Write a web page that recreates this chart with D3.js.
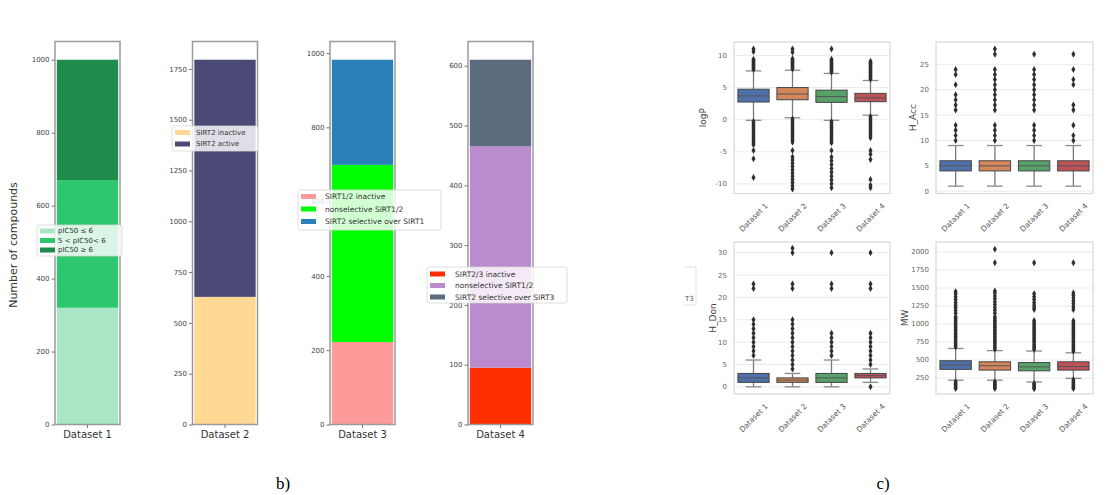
<!DOCTYPE html>
<html><head><meta charset="utf-8">
<script src="https://cdn.jsdelivr.net/npm/d3@7"></script>
<style>body{margin:0;background:#fff} svg{display:block}</style>
</head><body><svg id="c" width="1105" height="495"></svg>
<script>
// ---------------- DATA ----------------
const barCategories = ["Dataset 1", "Dataset 2", "Dataset 3", "Dataset 4"];

const ds1Series = ["pIC50 ≤ 6", "5 < pIC50< 6", "pIC50 ≥ 6"];
const ds1Values = [320, 350, 330];
const ds1Ticks = [0, 200, 400, 600, 800, 1000];

const ds2Series = ["SIRT2 inactive", "SIRT2 active"];
const ds2Values = [628, 1167];
const ds2Ticks = [0, 250, 500, 750, 1000, 1250, 1500, 1750];

const ds3Series = ["SIRT1/2 inactive", "nonselective SIRT1/2", "SIRT2 selective over SIRT1"];
const ds3Values = [222, 477, 283];
const ds3Ticks = [0, 200, 400, 600, 800, 1000];

const ds4Series = ["SIRT2/3 inactive", "nonselective SIRT1/2", "SIRT2 selective over SIRT3"];
const ds4Values = [95, 370, 145];
const ds4Ticks = [0, 100, 200, 300, 400, 500, 600];

const boxCategories = ["Dataset 1", "Dataset 2", "Dataset 3", "Dataset 4"];

// [whisker low, Q1, median, Q3, whisker high]
const logPStats = [[-0.1, 2.75, 3.7, 4.75, 7.6], [0.3, 3.1, 4.0, 5.0, 7.7], [-0.1, 2.7, 3.6, 4.6, 7.2], [0.7, 2.8, 3.4, 4.1, 6.1]];
const logPOutliers = [
  [11.0, 10.6, 9.4, 9.2, 9.0, 8.8, 8.6, 8.4, 8.2, 8.0, 7.8, -0.3, -0.6, -0.9, -1.2, -1.5, -1.8, -2.1, -2.4, -2.7, -3.0, -3.3, -3.6, -3.9, -4.8, -6.1, -9.0],
  [11.0, 10.5, 9.5, 9.3, 9.1, 8.9, 8.7, 8.5, 8.3, 8.1, 7.9, 0.1, -0.2, -0.5, -0.8, -1.1, -1.4, -1.7, -2.0, -2.3, -2.6, -2.9, -3.2, -3.5, -4.8, -5.8, -6.3, -6.8, -7.3, -7.8, -8.3, -8.8, -9.3, -9.8, -10.3, -10.8],
  [11.0, 9.4, 9.2, 9.0, 8.8, 8.6, 8.4, 8.2, 8.0, 7.8, 7.6, 7.4, -0.3, -0.6, -0.9, -1.2, -1.5, -1.8, -2.1, -2.4, -2.7, -3.0, -3.3, -3.6, -4.8, -5.8, -6.4, -7.0, -7.6, -8.2, -8.8, -9.4, -10.0, -10.6],
  [9.1, 8.9, 8.7, 8.5, 8.3, 8.1, 7.9, 7.7, 7.5, 7.3, 7.1, 6.9, 6.7, 6.5, 6.3, 0.5, 0.2, -0.1, -0.4, -0.7, -1.0, -1.3, -1.6, -1.9, -2.2, -2.5, -2.8, -4.8, -5.4, -6.2, -9.3, -10.2, -10.6]
];
const logPTicks = [-10, -5, 0, 5, 10];
const logPDomain = [-11.5, 12.1];

const hAccStats = [[1, 4, 5, 6, 9], [1, 4, 5, 6, 9], [1, 4, 5, 6, 9], [1, 4, 5, 6, 9]];
const hAccOutliers = [
  [10, 11, 12, 13, 16, 17, 18, 19, 21, 23, 24],
  [10, 11, 12, 13, 16, 17, 18, 19, 20, 21, 22, 23, 24, 27, 28],
  [10, 11, 12, 13, 16, 17, 18, 19, 20, 21, 22, 23, 24, 27],
  [10, 11, 13, 16, 17, 21, 22, 24, 27]
];
const hAccTicks = [0, 5, 10, 15, 20, 25];
const hAccDomain = [-0.45, 29.4];

const hDonStats = [[0, 1, 2, 3, 6], [0, 1, 1.5, 2, 3], [0, 1, 2, 3, 6], [1, 2, 2.5, 3, 4]];
const hDonOutliers = [
  [7, 8, 9, 10, 11, 12, 13, 14, 15, 22, 23],
  [4, 5, 6, 7, 8, 9, 10, 11, 12, 13, 14, 15, 22, 23, 30, 31],
  [7, 8, 9, 10, 11, 12, 22, 23, 30],
  [0, 5, 6, 7, 8, 9, 10, 11, 12, 22, 23, 30]
];
const hDonTicks = [0, 5, 10, 15, 20, 25, 30];
const hDonDomain = [-1.6, 32.4];

const mwStats = [[220, 370, 430, 490, 660], [220, 360, 420, 475, 630], [195, 350, 405, 465, 625], [245, 360, 410, 475, 600]];
const mwOutliers = [
  [680, 705, 730, 755, 780, 805, 830, 855, 880, 905, 930, 955, 980, 1005, 1030, 1055, 1080, 1100, 1150, 1190, 1230, 1260, 1300, 1340, 1380, 1420, 1450, 200, 180, 160, 140, 120, 105],
  [650, 675, 700, 725, 750, 775, 800, 825, 850, 875, 900, 925, 950, 975, 1000, 1025, 1050, 1075, 1100, 1150, 1190, 1230, 1270, 1310, 1350, 1390, 1430, 1460, 1850, 2040, 200, 180, 160, 140, 120, 105],
  [645, 670, 695, 720, 745, 770, 795, 820, 845, 870, 895, 920, 945, 970, 995, 1020, 1050, 1200, 1230, 1260, 1300, 1340, 1380, 1420, 1850, 175, 155, 135, 115, 100],
  [620, 645, 670, 695, 720, 745, 770, 795, 820, 845, 870, 895, 920, 945, 970, 995, 1020, 1045, 1200, 1240, 1280, 1320, 1360, 1400, 1430, 1850, 225, 200, 180, 160, 140, 120, 105]
];
const mwTicks = [250, 500, 750, 1000, 1250, 1500, 1750, 2000];
const mwDomain = [28, 2139];

// ---------------- STYLE / LAYOUT ----------------
const ds1Colors = ["#a8e6c5", "#2fc76d", "#1f8b4d"];
const ds2Colors = ["#ffd994", "#4b4a76"];
const ds3Colors = ["#ff9a9a", "#00ff00", "#2a80b9"];
const ds4Colors = ["#ff2e00", "#bb8bcd", "#5c6b7d"];
const boxColors = ["#4e71aa", "#d4875b", "#58a26a", "#bd5357"];

const FONT = "DejaVu Sans, sans-serif";
const svg = d3.select("#c");
const fmt = d3.format("d");

// ---------------- LEFT: stacked bars ----------------
const BAR_TOP = 41.5, BAR_BOTTOM = 424.5, BAR_W = 65;
const barLeft = [55, 192.5, 330, 468];

function drawBarPanel(i, series, values, ticks, colors, lg) {
  const x0 = barLeft[i], x1 = x0 + BAR_W;
  const total = d3.sum(values);
  const y = d3.scaleLinear().domain([0, total * 1.05]).range([BAR_BOTTOM, BAR_TOP]);
  const x = d3.scaleBand().domain([barCategories[i]]).range([x0, x1]).paddingOuter(0.03).paddingInner(0);
  const row = {};
  series.forEach((s, k) => row[s] = values[k]);
  const layers = d3.stack().keys(series)([row]);
  const g = svg.append("g");
  g.selectAll("rect.bar").data(layers).join("rect")
    .attr("x", x(barCategories[i])).attr("width", x.bandwidth())
    .attr("y", d => y(d[0][1])).attr("height", d => y(d[0][0]) - y(d[0][1]))
    .attr("fill", (d, k) => colors[k]);
  g.append("rect").attr("x", x0).attr("y", BAR_TOP).attr("width", BAR_W).attr("height", BAR_BOTTOM - BAR_TOP)
    .attr("fill", "none").attr("stroke", "#9a9a9a").attr("stroke-width", 1.5);
  g.append("g").attr("transform", `translate(${x0},0)`)
    .call(d3.axisLeft(y).tickValues(ticks).tickFormat(fmt).tickSize(3.5).tickPadding(2))
    .call(a => {
      a.select(".domain").remove();
      a.selectAll("line").attr("stroke", "#777");
      a.selectAll("text").attr("font-size", 7).attr("fill", "#444").attr("font-family", FONT);
    });
  g.append("g").attr("transform", `translate(0,${BAR_BOTTOM})`)
    .call(d3.axisBottom(x).tickSize(3.5).tickPadding(3))
    .call(a => {
      a.select(".domain").remove();
      a.selectAll("line").attr("stroke", "#777");
      a.selectAll("text").attr("font-size", 10).attr("fill", "#333").attr("font-family", FONT);
    });
  // legend
  const L = svg.append("g");
  L.append("rect").attr("x", lg.x).attr("y", lg.y).attr("width", lg.w).attr("height", lg.h)
    .attr("fill", "#fff").attr("fill-opacity", 0.82).attr("stroke", "#d6d6d6").attr("stroke-width", 0.8).attr("rx", 2);
  series.forEach((s, k) => {
    const cy = lg.y + lg.pad + k * lg.step;
    L.append("rect").attr("x", lg.x + 3).attr("y", cy - 2.5).attr("width", 15).attr("height", 5).attr("fill", colors[k]);
    L.append("text").attr("x", lg.tx).attr("y", cy).attr("dy", "0.35em")
      .attr("font-size", lg.fs).attr("font-family", FONT).attr("fill", "#333").text(s);
  });
}

drawBarPanel(0, ds1Series, ds1Values, ds1Ticks, ds1Colors, {x: 37, y: 225, w: 85, h: 31, pad: 6, step: 9.5, tx: 58, fs: 7});
drawBarPanel(1, ds2Series, ds2Values, ds2Ticks, ds2Colors, {x: 172, y: 126, w: 86, h: 25, pad: 6.5, step: 11.5, tx: 196, fs: 7});
drawBarPanel(2, ds3Series, ds3Values, ds3Ticks, ds3Colors, {x: 298, y: 190, w: 143, h: 40, pad: 6.5, step: 12.5, tx: 325, fs: 7.5});
drawBarPanel(3, ds4Series, ds4Values, ds4Ticks, ds4Colors, {x: 427, y: 267, w: 140, h: 36, pad: 7, step: 11.5, tx: 455, fs: 7.5});

svg.append("text").attr("transform", "translate(17,245) rotate(-90)").attr("text-anchor", "middle")
  .attr("font-size", 11).attr("font-family", FONT).attr("fill", "#333").text("Number of compounds");

// ---------------- RIGHT: box plots ----------------
function drawBoxPanel(x0, x1, y0, y1, stats, outliers, ticks, domain, ylabel, ylabelX) {
  const x = d3.scaleBand().domain(boxCategories).range([x0, x1]).padding(0);
  const y = d3.scaleLinear().domain(domain).range([y1, y0]);
  const g = svg.append("g");
  g.selectAll("line.grid").data(ticks).join("line")
    .attr("x1", x0).attr("x2", x1).attr("y1", d => y(d)).attr("y2", d => y(d))
    .attr("stroke", "#ebebeb").attr("stroke-width", 1);
  g.append("rect").attr("x", x0).attr("y", y0).attr("width", x1 - x0).attr("height", y1 - y0)
    .attr("fill", "none").attr("stroke", "#d8d8d8").attr("stroke-width", 1.2);
  g.selectAll("text.yt").data(ticks).join("text")
    .attr("x", x0 - 7).attr("y", d => y(d)).attr("dy", "0.35em").attr("text-anchor", "end")
    .attr("font-size", 7).attr("font-family", FONT).attr("fill", "#666").text(d => d);
  const bw = x.bandwidth() * 0.8, cw = bw * 0.5;
  boxCategories.forEach((c, i) => {
    const cx = x(c) + x.bandwidth() / 2;
    const [lo, q1, md, q3, hi] = stats[i];
    g.append("line").attr("x1", cx).attr("x2", cx).attr("y1", y(lo)).attr("y2", y(q1)).attr("stroke", "#7a7a7a").attr("stroke-width", 1.3);
    g.append("line").attr("x1", cx).attr("x2", cx).attr("y1", y(q3)).attr("y2", y(hi)).attr("stroke", "#7a7a7a").attr("stroke-width", 1.3);
    [lo, hi].forEach(v => g.append("line").attr("x1", cx - cw / 2).attr("x2", cx + cw / 2).attr("y1", y(v)).attr("y2", y(v))
      .attr("stroke", "#8a8a8a").attr("stroke-width", 1.3));
    g.append("rect").attr("x", cx - bw / 2).attr("width", bw).attr("y", y(q3)).attr("height", y(q1) - y(q3))
      .attr("fill", boxColors[i]).attr("stroke", "#444").attr("stroke-width", 1);
    g.append("line").attr("x1", cx - bw / 2).attr("x2", cx + bw / 2).attr("y1", y(md)).attr("y2", y(md)).attr("stroke", "#555").attr("stroke-width", 1);
    g.selectAll(null).data(outliers[i]).join("path")
      .attr("d", d3.symbol(d3.symbolDiamond, 14))
      .attr("transform", d => `translate(${cx},${y(d)})`)
      .attr("fill", "#2f2f2f");
    g.append("text").attr("transform", `translate(${cx},${y1 + 24}) rotate(-45)`).attr("text-anchor", "middle").attr("dy", "0.35em")
      .attr("font-size", 7.5).attr("font-family", FONT).attr("fill", "#555").text(c);
  });
  svg.append("text").attr("transform", `translate(${ylabelX},${(y0 + y1) / 2}) rotate(-90)`).attr("text-anchor", "middle").attr("dy", "0.35em")
    .attr("font-size", 9).attr("font-family", FONT).attr("fill", "#444").text(ylabel);
}

drawBoxPanel(734, 890, 42, 193.5, logPStats, logPOutliers, logPTicks, logPDomain, "logP", 703);
drawBoxPanel(936, 1093, 42, 193.5, hAccStats, hAccOutliers, hAccTicks, hAccDomain, "H_Acc", 913);
drawBoxPanel(734, 890, 242, 394, hDonStats, hDonOutliers, hDonTicks, hDonDomain, "H_Don", 713);
drawBoxPanel(936, 1093, 242, 394, mwStats, mwOutliers, mwTicks, mwDomain, "MW", 905);

// clipped legend remnant
svg.append("path").attr("d", "M684,267 L696,267 L696,305 L684,305").attr("fill", "none").attr("stroke", "#dcdcdc").attr("stroke-width", 0.8);
svg.append("text").attr("x", 685).attr("y", 301).attr("font-size", 7).attr("font-family", FONT).attr("fill", "#555").text("T3");

// captions
svg.append("text").attr("x", 283).attr("y", 489).attr("text-anchor", "middle").attr("font-size", 17)
  .attr("font-family", "Liberation Serif, serif").attr("fill", "#000").text("b)");
svg.append("text").attr("x", 883).attr("y", 489).attr("text-anchor", "middle").attr("font-size", 17)
  .attr("font-family", "Liberation Serif, serif").attr("fill", "#000").text("c)");
</script></body></html>
